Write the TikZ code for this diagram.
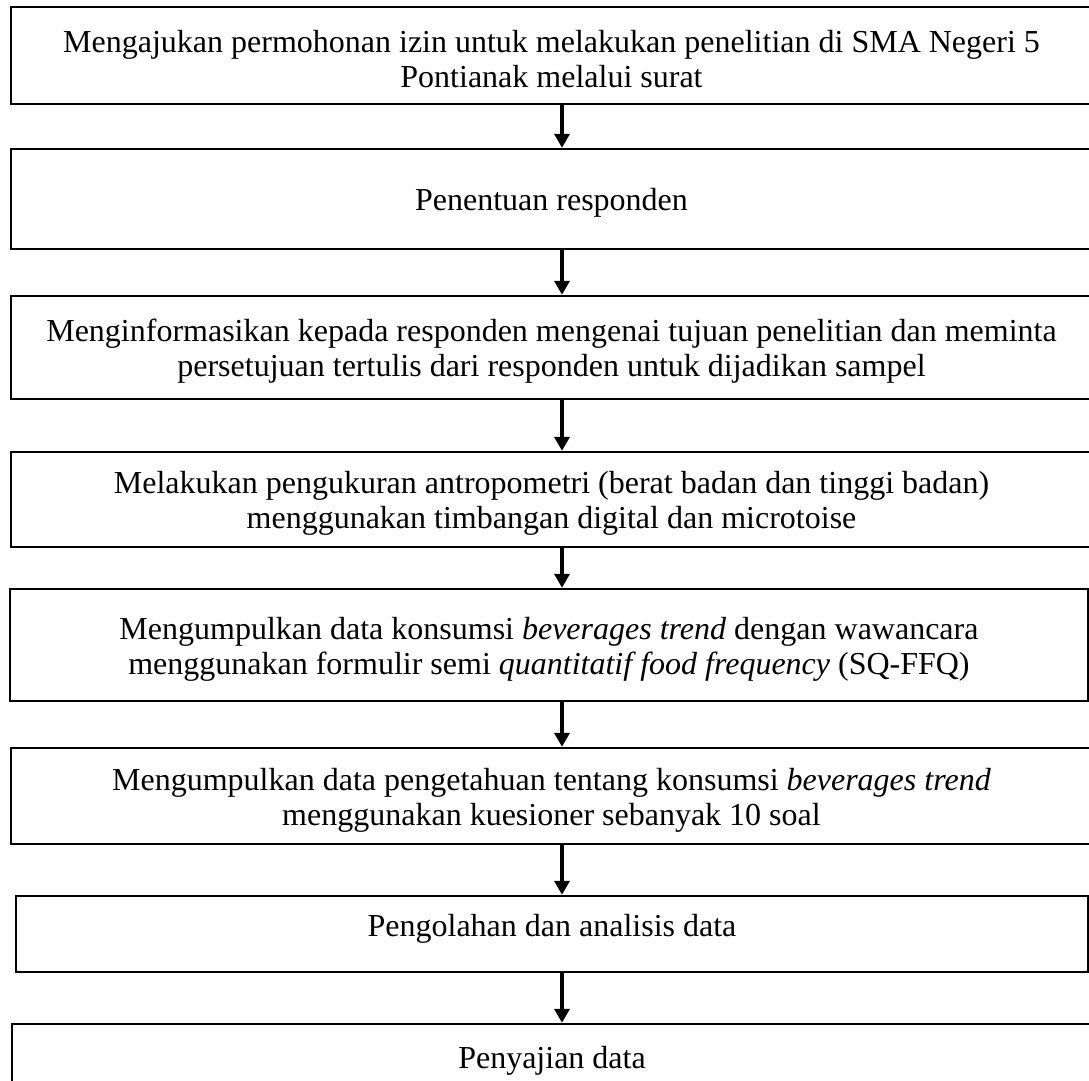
\documentclass[tikz,border=0pt]{standalone}
\usepackage{fontspec}
\setmainfont{Liberation Serif}
\usepackage{tikz}
\usetikzlibrary{arrows.meta, positioning}

\newcommand{\topstrut}{\rule{0pt}{15pt}}

\tikzset{
  stepbox/.style={draw=black, line width=1.2pt, rectangle, inner sep=0pt,
    align=center, font=\fontsize{16pt}{17.5pt}\selectfont},
  flow/.style={line width=2pt, -{Triangle[length=7pt, width=7.5pt]}}
}

\begin{document}
\begin{tikzpicture}[x=0.5pt, y=-0.5pt]
  \clip (0,0) rectangle (1089,1081);
  \useasboundingbox (0,0) rectangle (1089,1081);

  \node[stepbox, minimum width=540.5pt, minimum height=48.5pt] (izin) at (551.5,55.5)
    {\topstrut Mengajukan permohonan izin untuk melakukan penelitian di SMA Negeri 5\\
     Pontianak melalui surat};
  \node[stepbox, minimum width=540.5pt, minimum height=50pt] (responden) at (551.5,199)
    {\topstrut Penentuan responden};
  \node[stepbox, minimum width=540.5pt, minimum height=51.5pt] (informasi) at (551.5,347.5)
    {\topstrut Menginformasikan kepada responden mengenai tujuan penelitian dan meminta\\
     persetujuan tertulis dari responden untuk dijadikan sampel};
  \node[stepbox, minimum width=540.5pt, minimum height=47.5pt] (antropometri) at (551.5,499.5)
    {\topstrut Melakukan pengukuran antropometri (berat badan dan tinggi badan)\\
     menggunakan timbangan digital dan microtoise};
  \node[stepbox, minimum width=539pt, minimum height=56pt] (konsumsi) at (549,645)
    {\topstrut Mengumpulkan data konsumsi \textit{beverages trend} dengan wawancara\\
     menggunakan formulir semi \textit{quantitatif food frequency} (SQ-FFQ)};
  \node[stepbox, minimum width=540.5pt, minimum height=48pt] (pengetahuan) at (551.5,796)
    {\topstrut Mengumpulkan data pengetahuan tentang konsumsi \textit{beverages trend}\\
     menggunakan kuesioner sebanyak 10 soal};
  \node[stepbox, minimum width=536pt, text height=20.1pt, text depth=17.9pt] (analisis) at (552,934)
    {Pengolahan dan analisis data};
  \node[stepbox, minimum width=540pt, text height=22.1pt, text depth=27.9pt] (penyajian) at (552,1074)
    {Penyajian data};

  % arrows on one vertical line
  \coordinate (axis) at (562,0);
  \foreach \from/\to in {izin/responden, responden/informasi, informasi/antropometri,
      antropometri/konsumsi, konsumsi/pengetahuan, pengetahuan/analisis, analisis/penyajian}
    \draw[flow] (\from.south -| axis) -- (\to.north -| axis);
\end{tikzpicture}
\end{document}
